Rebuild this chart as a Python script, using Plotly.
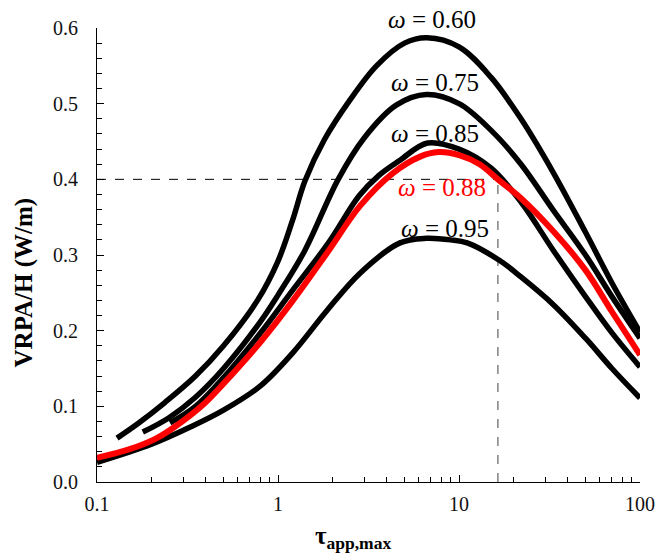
import plotly.graph_objects as go

# ---- data ----
x_060 = [0.129, 0.17, 0.237, 0.35, 0.5, 0.77, 1.0, 1.2, 1.41, 1.8, 2.5, 3.5, 5.0, 6.65, 10.0, 15.0, 22.0, 33.0, 50.0, 70.0, 100.0]
y_060 = [0.058, 0.078, 0.105, 0.140, 0.180, 0.240, 0.292, 0.345, 0.398, 0.452, 0.505, 0.550, 0.580, 0.587, 0.575, 0.535, 0.480, 0.410, 0.330, 0.263, 0.198]

x_075 = [0.179, 0.25, 0.35, 0.5, 0.8, 1.0, 1.4, 2.15, 3.0, 4.5, 6.6, 10.0, 15.0, 22.0, 33.0, 50.0, 70.0, 100.0]
y_075 = [0.066, 0.085, 0.112, 0.150, 0.212, 0.247, 0.305, 0.400, 0.455, 0.498, 0.512, 0.500, 0.465, 0.420, 0.360, 0.300, 0.245, 0.190]

x_085 = [0.253, 0.35, 0.5, 0.8, 1.2, 1.9, 2.8, 3.6, 4.7, 6.7, 10.0, 15.0, 22.0, 33.0, 50.0, 70.0, 100.0]
y_085 = [0.078, 0.100, 0.138, 0.197, 0.253, 0.316, 0.378, 0.405, 0.425, 0.448, 0.440, 0.415, 0.370, 0.307, 0.245, 0.197, 0.152]

x_088 = [0.1, 0.15, 0.214, 0.288, 0.385, 0.5, 0.8, 1.21, 1.87, 2.84, 4.3, 6.1, 7.7, 10.0, 13.0, 16.4, 22.0, 33.0, 50.0, 70.0, 100.0]
y_088 = [0.032, 0.043, 0.058, 0.078, 0.102, 0.130, 0.185, 0.240, 0.303, 0.365, 0.408, 0.430, 0.436, 0.432, 0.420, 0.400, 0.375, 0.332, 0.280, 0.225, 0.168]

x_095 = [0.1, 0.2, 0.33, 0.5, 0.8, 1.2, 1.87, 2.84, 4.72, 6.6, 9.0, 11.1, 16.7, 22.0, 33.0, 50.0, 70.0, 100.0]
y_095 = [0.026, 0.050, 0.073, 0.095, 0.127, 0.170, 0.227, 0.276, 0.316, 0.322, 0.320, 0.316, 0.293, 0.271, 0.235, 0.190, 0.150, 0.111]

guide_x = 16.4   # tau at the marked point on omega = 0.88
guide_y = 0.40   # VRPA/H at that point
x_min = 0.1

labels = ["<i>ω</i> = 0.60", "<i>ω</i> = 0.75", "<i>ω</i> = 0.85", "<i>ω</i> = 0.88", "<i>ω</i> = 0.95"]

FONT = "Liberation Serif, Times New Roman, serif"

fig = go.Figure()

# guide lines
fig.add_trace(go.Scatter(x=[x_min, guide_x], y=[guide_y, guide_y], mode="lines",
                         line=dict(color="black", width=1, dash="dash"), hoverinfo="skip"))
fig.add_trace(go.Scatter(x=[guide_x, guide_x], y=[0, guide_y], mode="lines",
                         line=dict(color="#808080", width=1.5, dash="dash"), hoverinfo="skip"))

for xs, ys in [(x_060, y_060), (x_075, y_075), (x_085, y_085), (x_095, y_095)]:
    fig.add_trace(go.Scatter(x=xs, y=ys, mode="lines",
                             line=dict(color="black", width=5.5, shape="spline", smoothing=1.0)))
fig.add_trace(go.Scatter(x=x_088, y=y_088, mode="lines",
                         line=dict(color="#ff0000", width=6, shape="spline", smoothing=1.0)))

minor_x = [m * 10 ** e for e in (-1, 0, 1) for m in range(2, 10)]

fig.update_layout(
    width=657, height=554,
    margin=dict(l=97, r=17, t=28, b=72, autoexpand=False),
    paper_bgcolor="white", plot_bgcolor="white",
    showlegend=False,
    font=dict(family=FONT, size=20, color="#111"),
    xaxis=dict(type="log", range=[-1, 2], showline=True, linecolor="black", linewidth=1,
               automargin=False,
               showgrid=False, zeroline=False, ticks="inside", ticklen=7, tickcolor="black",
               tickvals=[0.1, 1, 10, 100], ticktext=["0.1", "1", "10", "100"],
               ticklabelstandoff=4,
               minor=dict(tickvals=minor_x, ticks="inside", ticklen=5, tickcolor="black", showgrid=False)),
    yaxis=dict(range=[0, 0.6], showline=True, linecolor="black", linewidth=1,
               automargin=False,
               showgrid=False, zeroline=False, ticks="inside", ticklen=7, tickcolor="black",
               dtick=0.1, tickformat=".1f", ticklabelstandoff=14,
               minor=dict(dtick=0.02, ticks="inside", ticklen=5, tickcolor="black", showgrid=False)),
)

label_pos = [(0.617, 1.018), (0.622, 0.881), (0.622, 0.767), (0.635, 0.648), (0.641, 0.559)]
label_col = ["black", "black", "black", "#ff0000", "black"]
for t, (px, py), c in zip(labels, label_pos, label_col):
    fig.add_annotation(text=t, x=px, y=py, xref="paper", yref="paper", showarrow=False,
                       xanchor="center", yanchor="middle",
                       font=dict(family=FONT, size=25, color=c))

fig.add_annotation(text="<b>VRPA/H (W/m)</b>", x=-0.134, y=0.44, xref="paper", yref="paper",
                   showarrow=False, textangle=-90, xanchor="center", yanchor="middle",
                   font=dict(family=FONT, size=25, color="black"))
fig.add_annotation(text="<b>τ<sub>app,max</sub></b>", x=0.471, y=-0.122, xref="paper", yref="paper",
                   showarrow=False, xanchor="center", yanchor="middle",
                   font=dict(family=FONT, size=25, color="black"))

fig.write_html("out.html")
